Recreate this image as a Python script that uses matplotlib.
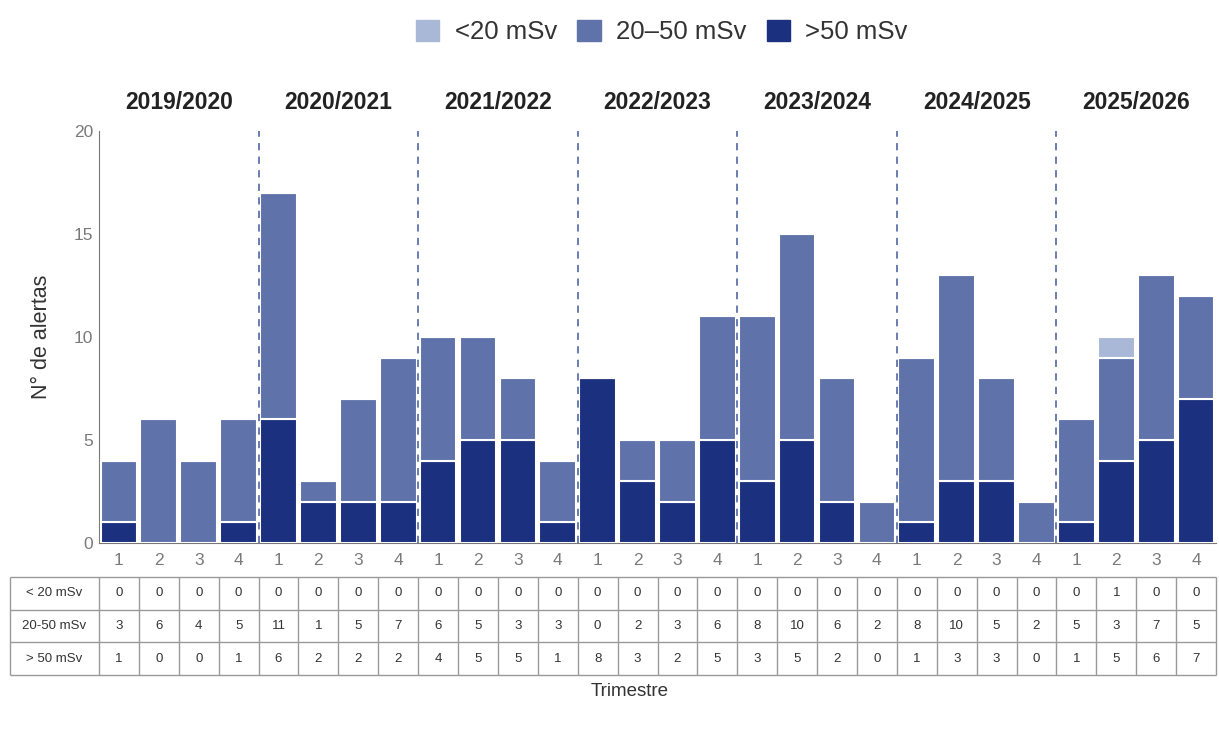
import matplotlib.pyplot as plt
import numpy as np
from matplotlib.patches import Patch

plt.rcParams['font.family'] = ['Liberation Sans', 'DejaVu Sans']

years = ['2019/2020', '2020/2021', '2021/2022', '2022/2023',
         '2023/2024', '2024/2025', '2025/2026']
quarters = ['1', '2', '3', '4']

# values as drawn in the bars
bar_lt20 = [0, 0, 0, 0, 0, 0, 0, 0, 0, 0, 0, 0, 0, 0, 0, 0,
            0, 0, 0, 0, 0, 0, 0, 0, 0, 1, 0, 0]
bar_mid = [3, 6, 4, 5, 11, 1, 5, 7, 6, 5, 3, 3, 0, 2, 3, 6,
           8, 10, 6, 2, 8, 10, 5, 2, 5, 5, 8, 5]
bar_gt50 = [1, 0, 0, 1, 6, 2, 2, 2, 4, 5, 5, 1, 8, 3, 2, 5,
            3, 5, 2, 0, 1, 3, 3, 0, 1, 4, 5, 7]

# values as written in the table
row_labels = ['< 20 mSv', '20-50 mSv', '> 50 mSv']
tab_lt20 = [0, 0, 0, 0, 0, 0, 0, 0, 0, 0, 0, 0, 0, 0, 0, 0,
            0, 0, 0, 0, 0, 0, 0, 0, 0, 1, 0, 0]
tab_mid = [3, 6, 4, 5, 11, 1, 5, 7, 6, 5, 3, 3, 0, 2, 3, 6,
           8, 10, 6, 2, 8, 10, 5, 2, 5, 3, 7, 5]
tab_gt50 = [1, 0, 0, 1, 6, 2, 2, 2, 4, 5, 5, 1, 8, 3, 2, 5,
            3, 5, 2, 0, 1, 3, 3, 0, 1, 5, 6, 7]

c_light = '#a9b8d6'
c_mid = '#5f73aa'
c_dark = '#1b307e'

W, H = 1219, 729
fig = plt.figure(figsize=(W / 100, H / 100), dpi=100)

ax_l, ax_r = 99, 1216
ax = fig.add_axes([ax_l / W, 1 - 543 / H, (ax_r - ax_l) / W, (543 - 131) / H])

n = len(bar_mid)
x = np.arange(n)
dark = np.array(bar_gt50)
mid = np.array(bar_mid)
light = np.array(bar_lt20)
ax.bar(x, dark, 0.92, color=c_dark, edgecolor='white', linewidth=1.5, zorder=3)
ax.bar(x, mid, 0.92, bottom=dark, color=c_mid, edgecolor='white', linewidth=1.5, zorder=3)
ax.bar(x, light, 0.92, bottom=dark + mid, color=c_light, edgecolor='white', linewidth=1.5, zorder=3)

# year separators
seps = np.arange(4, n, 4) - 0.5
ax.vlines(seps, 0, 20, colors='#5e72ab', linestyles=(0, (4, 3.5)), linewidth=1.3, zorder=4)

for i, yr in enumerate(years):
    ax.text(i * 4 + 1.5, 21.4, yr, ha='center', va='center', fontsize=16.5,
            fontweight='bold', color='#222222')

ax.set_xlim(-0.5, n - 0.5)
ax.set_ylim(0, 20)
ax.set_yticks([0, 5, 10, 15, 20])
ax.set_xticks(x)
ax.set_xticklabels(quarters * len(years))
ax.tick_params(axis='both', length=0, labelsize=12.5, labelcolor='#7a7a7a')
ax.tick_params(axis='x', pad=7)
ax.tick_params(axis='y', pad=4)
for s in ['top', 'right']:
    ax.spines[s].set_visible(False)
ax.spines['left'].set_color('#777777')
ax.spines['bottom'].set_color('#777777')
ax.set_ylabel('N° de alertas', fontsize=15.5, color='#333333', labelpad=16)

# table below
unit = (ax_r - ax_l) / n
tab_left = 10
x0 = -0.5 - (ax_l - tab_left) / unit
tax = fig.add_axes([tab_left / W, 1 - 675 / H, (ax_r - tab_left) / W, (675 - 577) / H])
tax.set_xlim(x0, n - 0.5)
tax.set_ylim(0, 3)
tax.axis('off')
rows = [tab_lt20, tab_mid, tab_gt50]
gc = '#9a9a9a'
tax.hlines(np.arange(4), x0, n - 0.5, colors=gc, linewidth=1, clip_on=False)
tax.vlines(np.concatenate([[x0], np.arange(n + 1) - 0.5]), 0, 3, colors=gc,
           linewidth=1, clip_on=False)
for r, (lab, vals) in enumerate(zip(row_labels, rows)):
    yc = 2.5 - r
    tax.text((x0 - 0.5) / 2, yc, lab, ha='center', va='center', fontsize=9.5, color='#333333')
    for j, v in enumerate(vals):
        tax.text(j, yc, str(v), ha='center', va='center', fontsize=9.5, color='#333333')

fig.text(630 / W, 1 - 691 / H, 'Trimestre', ha='center', va='center', fontsize=13.5, color='#333333')

handles = [Patch(color=c_light), Patch(color=c_mid), Patch(color=c_dark)]
fig.legend(handles, ['<20 mSv', '20–50 mSv', '>50 mSv'], loc='center',
           bbox_to_anchor=(662 / W, 1 - 32 / H), ncol=3, frameon=False,
           fontsize=18.5, handlelength=0.9, handleheight=0.9, handletextpad=0.6,
           columnspacing=0.8, labelcolor='#333333')

fig.savefig('out.png', dpi=100)
